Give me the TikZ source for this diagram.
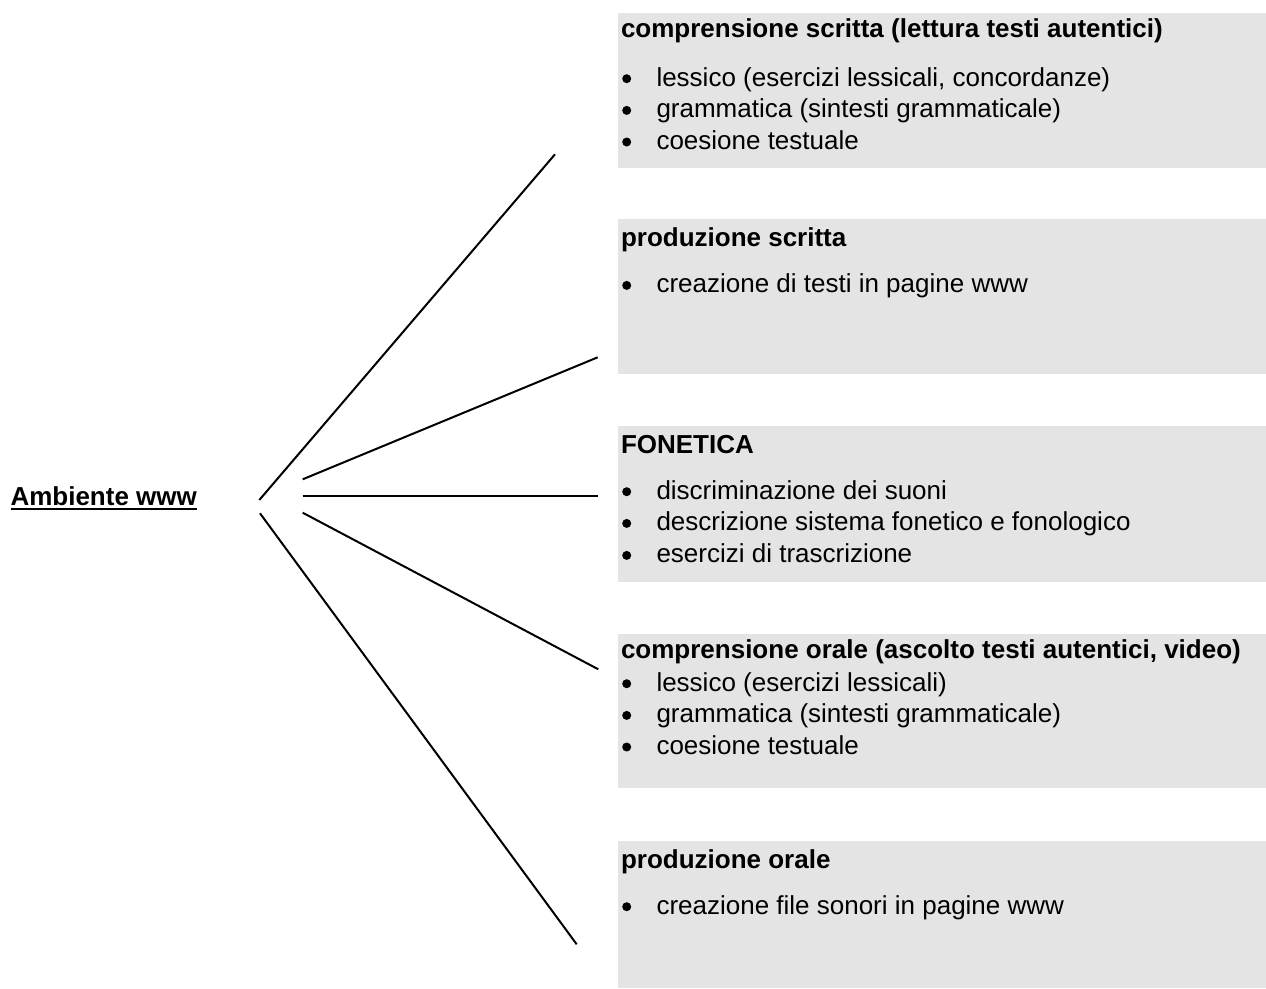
\documentclass[tikz,border=0pt]{standalone}
\usepackage{fontspec}
\setmainfont{Liberation Sans}
\definecolor{boxgray}{RGB}{228,228,228}
\begin{document}
\begin{tikzpicture}[x=1pt,y=-1pt,
  panel/.style={fill=boxgray, draw=none, anchor=north west, minimum width=648pt, inner sep=0pt, outer sep=0pt},
  head/.style={anchor=base west, inner sep=0pt, outer sep=0pt, font=\fontsize{26}{32}\selectfont\bfseries},
  item/.style={anchor=base west, inner sep=0pt, outer sep=0pt, font=\fontsize{26}{32}\selectfont},
  dot/.style={circle, fill=black, draw=none, minimum size=9pt, inner sep=0pt},
  link/.style={line width=2pt, line cap=butt}]
\useasboundingbox (0,0) rectangle (1266,988);

% panels
\node[panel, minimum height=155pt]   (p1) at (618,12.7) {};
\node[panel, minimum height=155.3pt] (p2) at (618,219) {};
\node[panel, minimum height=155.7pt] (p3) at (618,426) {};
\node[panel, minimum height=154.3pt] (p4) at (618,634) {};
\node[panel, minimum height=147pt]   (p5) at (618,841) {};

% panel 1
\node[head] (h1) at (621,37.3) {comprensione scritta (lettura testi autentici)};
\node[dot] (d11) at (626.7,78.7) {};
\node[item] (i11) at (656.5,86) {lessico (esercizi lessicali, concordanze)};
\node[dot] (d12) at (626.7,110.4) {};
\node[item] (i12) at (656.5,117.7) {grammatica (sintesti grammaticale)};
\node[dot] (d13) at (626.7,142) {};
\node[item] (i13) at (656.5,149.3) {coesione testuale};

% panel 2
\node[head] (h2) at (621,246.7) {produzione scritta};
\node[dot] (d21) at (626.7,285.4) {};
\node[item] (i21) at (656.5,292.7) {creazione di testi in pagine www};

% panel 3
\node[head] (h3) at (621,453) {FONETICA};
\node[dot] (d31) at (626.7,491.7) {};
\node[item] (i31) at (656.5,499) {discriminazione dei suoni};
\node[dot] (d32) at (626.7,523.4) {};
\node[item] (i32) at (656.5,530.7) {descrizione sistema fonetico e fonologico};
\node[dot] (d33) at (626.7,555.4) {};
\node[item] (i33) at (656.5,562.7) {esercizi di trascrizione};

% panel 4
\node[head] (h4) at (621,658.3) {comprensione orale (ascolto testi autentici, video)};
\node[dot] (d41) at (626.7,683.7) {};
\node[item] (i41) at (656.5,691) {lessico (esercizi lessicali)};
\node[dot] (d42) at (626.7,715.4) {};
\node[item] (i42) at (656.5,722.7) {grammatica (sintesti grammaticale)};
\node[dot] (d43) at (626.7,747) {};
\node[item] (i43) at (656.5,754.3) {coesione testuale};

% panel 5
\node[head] (h5) at (621,868) {produzione orale};
\node[dot] (d51) at (626.7,906.7) {};
\node[item] (i51) at (656.5,914) {creazione file sonori in pagine www};

% central label
\node[head] (amb) at (10.5,505) {Ambiente www};
\draw[line width=2pt] ([yshift=-4.3pt]amb.base west) -- ([yshift=-4.3pt]amb.base east);

% connector end points
\coordinate (s1) at (259.3,500);
\coordinate (s2) at (302.7,479.3);
\coordinate (s3) at (302.7,496);
\coordinate (s4) at (302.7,512.7);
\coordinate (s5) at (260,513.3);
\coordinate (e1) at (555,154.3);
\coordinate (e2) at (597.7,357.3);
\coordinate (e3) at (598.3,496);
\coordinate (e4) at (598.3,669.3);
\coordinate (e5) at (576.7,944.3);

\draw[link] (s1) -- (e1);
\draw[link] (s2) -- (e2);
\draw[link] (s3) -- (e3);
\draw[link] (s4) -- (e4);
\draw[link] (s5) -- (e5);
\end{tikzpicture}
\end{document}
